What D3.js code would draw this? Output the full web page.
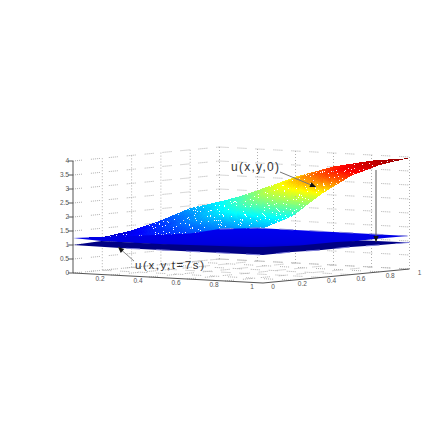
<!DOCTYPE html>
<html><head><meta charset="utf-8">
<script src="https://cdn.jsdelivr.net/npm/d3@7"></script>
<style>html,body{margin:0;padding:0;background:#fff}svg{display:block}text{font-family:"Liberation Sans",Arial,sans-serif}</style>
</head><body><svg id="c" width="436" height="436"></svg>
<script>
// ---- data ----
const xNodes=[0,0.2,0.4,0.6,0.8,1];
const yNodes=[0,0.2,0.4,0.6,0.8,1];
const u0=[ // rows: x, columns: y
 [1.25,1.18,1.32,1.58,1.92,2.00],
 [1.30,1.40,1.62,1.92,2.28,2.50],
 [1.42,1.65,2.00,2.38,2.80,3.08],
 [1.60,1.90,2.42,2.90,3.28,3.52],
 [1.80,2.10,2.75,3.28,3.62,3.80],
 [1.95,2.28,2.98,3.52,3.82,3.96]];
// outline of the upper (brighter) part of u(x,y,t=7s)
const upperX=[0,0,0,0,0.2,0.4,0.6,0.8,0.99,1,1,1,1,0.5,0.15];
const upperY=[0,0.4,0.8,1,1,1,1,1,1,0.83,0.7,0.4,0,0,0];
const upperU=[1.25,1.12,1.01,1.07,1.18,1.18,1.18,1.18,1.175,1.19,1.186,1.12,1.18,1.18,1.2];
// outline of the lower (darker) part of u(x,y,t=7s)
const lowerX=[0,0.15,0.46,0.93,1,1,1,1,1,1,1,1,1,1,1,0.46,0.25];
const lowerY=[0,0,0,0,0,0.25,0.5,0.7,0.85,1,0.8,0.6,0.4,0.2,0,0,0];
const lowerU=[1.0,1.196,1.2,1.26,1.286,1.214,1.214,1.168,1.057,0.95,0.96,0.99,0.98,1.01,1.0,0.99,0.98];
const xTicks=[0.2,0.4,0.6,0.8,1];
const yTicks=[0,0.2,0.4,0.6,0.8,1];
const uTicks=[0,0.5,1,1.5,2,2.5,3,3.5,4];
const jetStops=[1,1.4,2.2,3.0,3.6,4.0];
const jetColors=["#000080","#0000ff","#00ffff","#ffff00","#ff0000","#800000"];

// ---- oblique projection built from scales ----
const sx=d3.scaleLinear().domain([0,1]).range([0,190]);
const sy=d3.scaleLinear().domain([0,1]).range([0,146.5]);
const vx=d3.scaleLinear().domain([0,1]).range([0,10]);
const vy=d3.scaleLinear().domain([0,1]).range([0,-14]);
const vu=d3.scaleLinear().domain([0,4]).range([0,-112]);
const P=(x,y,u)=>[73+sx(x)+sy(y),273+vx(x)+vy(y)+vu(u)];
const jet=d3.scaleLinear().domain(jetStops).range(jetColors).clamp(true);
const svg=d3.select("#c");
const line=d3.line();
const gridC="#b0b0b0", dash="1,1,1,1,1,1,1,1,1,9";

// walls and floor grid
const g=svg.append("g").attr("fill","none").attr("stroke",gridC).attr("stroke-width",1);
const seg=(a,b,d)=>g.append("path").attr("d",line([a,b])).attr("stroke-dasharray",d);
uTicks.forEach(u=>{
  seg(P(0,0,u),P(0,1,u),dash);
  seg(P(0,1,u),P(1,1,u),dash);
});
[0.2,0.4,0.6,0.8,1].forEach(y=>seg(P(0,y,0),P(0,y,4),"1,2"));
[0.2,0.4,0.6,0.8,1].forEach(x=>seg(P(x,1,0),P(x,1,4),"1,2"));
[0.2,0.4,0.6,0.8].forEach(x=>seg(P(x,0,0),P(x,1,0),dash));
[0.2,0.4,0.6,0.8].forEach(y=>seg(P(0,y,0),P(1,y,0),dash));
seg(P(0,1,0),P(0,0,0),dash); seg(P(0,1,0),P(1,1,0),dash);

// surface u(x,y,0)
const sub=14, inset=0.975;
const xi=d3.scaleLinear().domain(d3.range(xNodes.length)).range(xNodes);
function h(i,j){ // i,j in node units
  const i0=Math.min(Math.floor(i),xNodes.length-2), j0=Math.min(Math.floor(j),yNodes.length-2);
  const ti=i-i0,tj=j-j0;
  return d3.interpolateNumber(
    d3.interpolateNumber(u0[i0][j0],u0[i0][j0+1])(tj),
    d3.interpolateNumber(u0[i0+1][j0],u0[i0+1][j0+1])(tj))(ti);
}
const surf=svg.append("g").attr("shape-rendering","crispEdges");
const n=(xNodes.length-1)*sub, m=(yNodes.length-1)*sub;
for(let a=0;a<n;a++){
  for(let b=m-1;b>=0;b--){
    const c=[[a,b],[a+1,b],[a+1,b+1],[a,b+1]].map(([p,q])=>{
      const i=p/sub,j=q/sub;
      return {pt:P(xi(i),xi(j),h(i,j)),u:h(i,j)};
    });
    const cx=d3.mean(c,d=>d.pt[0]), cy=d3.mean(c,d=>d.pt[1]);
    const pts=c.map(d=>[cx+(d.pt[0]-cx)*inset,cy+(d.pt[1]-cy)*inset]);
    surf.append("path").attr("d",line(pts)+"Z").attr("fill",jet(d3.mean(c,d=>d.u)));
  }
}

// surface u(x,y,t=7s)
const defs=svg.append("defs");
const gr=defs.append("linearGradient").attr("id","ug").attr("x1",0).attr("y1",0).attr("x2",0).attr("y2",1);
gr.append("stop").attr("offset","0").attr("stop-color","#0000f0");
gr.append("stop").attr("offset","0.7").attr("stop-color","#0000e0");
gr.append("stop").attr("offset","1").attr("stop-color","#0000b8");
const edge="#7f7fdc", edgeDash="14,16";
svg.append("path").attr("d",line(upperX.map((x,i)=>P(x,upperY[i],upperU[i])))+"Z").attr("fill","url(#ug)");
svg.append("path").attr("d",line(upperX.slice(3,9).map((x,i)=>P(x,upperY[i+3],upperU[i+3])))).attr("fill","none").attr("stroke",edge).attr("stroke-dasharray",edgeDash);
svg.append("path").attr("d",line(lowerX.map((x,i)=>P(x,lowerY[i],lowerU[i])))+"Z").attr("fill","#000085");
svg.append("path").attr("d",line(lowerX.slice(9).map((x,i)=>P(x,lowerY[i+9],lowerU[i+9])))).attr("fill","none").attr("stroke",edge).attr("stroke-dasharray",edgeDash);

// axes
const ax=svg.append("g").attr("fill","none").attr("stroke","#555").attr("stroke-width",1);
ax.append("path").attr("d",line([P(0,0,4),P(0,0,0),P(1,0,0),P(1,1,0)]));
uTicks.forEach(u=>{const p=P(0,0,u);ax.append("path").attr("d",line([[p[0]-5,p[1]],p]));});
const txt=svg.append("g").attr("font-size",6.5).attr("fill","#555");
uTicks.forEach(u=>{const p=P(0,0,u);txt.append("text").attr("x",p[0]-4).attr("y",p[1]+2).attr("text-anchor","end").text(u);});
xTicks.forEach(x=>{const p=P(x,0,0);txt.append("text").attr("x",p[0]-11).attr("y",p[1]+6).attr("text-anchor","middle").text(x);});
yTicks.forEach(y=>{const p=P(1,y,0);txt.append("text").attr("x",p[0]+10).attr("y",p[1]+6).attr("text-anchor","middle").text(y);});

// annotations
const ann=svg.append("g");
function arrow(a,b,col){
  ann.append("path").attr("d",line([a,b])).attr("stroke",col).attr("stroke-width",1).attr("fill","none");
  const t=Math.atan2(b[1]-a[1],b[0]-a[0]),L=6,w=2.6;
  const q=[b,[b[0]-L*Math.cos(t)+w*Math.sin(t),b[1]-L*Math.sin(t)-w*Math.cos(t)],[b[0]-L*Math.cos(t)-w*Math.sin(t),b[1]-L*Math.sin(t)+w*Math.cos(t)]];
  ann.append("path").attr("d",line(q)+"Z").attr("fill","#111");
}
arrow([280,172],[316,187],"#777");
arrow([134,261],[118,247],"#888");
arrow([376,170],[376,242],"#555");
ann.append("text").attr("x",231).attr("y",171).attr("font-size",12).attr("fill","#333").attr("textLength",48).text("u(x,y,0)");
ann.append("text").attr("x",135).attr("y",269).attr("font-size",11.5).attr("fill","#333").attr("textLength",69).text("u(x,y,t=7s)");
</script></body></html>
